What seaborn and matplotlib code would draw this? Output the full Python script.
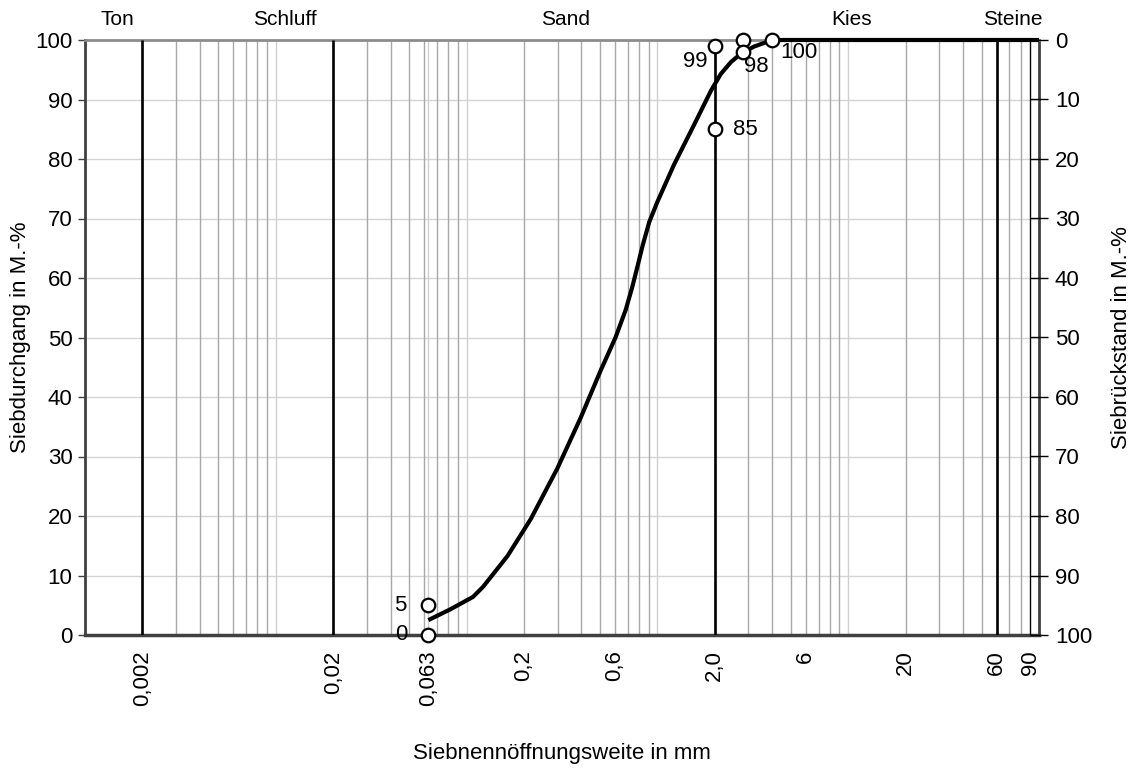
import matplotlib
matplotlib.use("Agg")
import numpy as np
import pandas as pd
import matplotlib.pyplot as plt
import seaborn as sns

# ==========================================
# Sieblinie - abgelesene Werte
# ==========================================
grain_size = [0.063, 0.082, 0.108, 0.122, 0.164, 0.217, 0.299, 0.396, 0.505,
              0.605, 0.683, 0.740, 0.787, 0.836, 0.906, 1.0, 1.22, 1.56, 1.91,
              2.15, 2.43, 2.74, 3.21, 3.78, 4.4, 100]
passing = [2.5, 4.3, 6.4, 8.1, 13.3, 19.5, 28.0, 36.5, 44.5,
           50.1, 54.7, 58.6, 62.0, 65.4, 69.4, 72.8, 79.0, 85.8, 91.5,
           94.3, 96.3, 97.7, 98.9, 99.7, 100.0, 100.0]

# Einzelpunkte (Kreise) mit Beschriftung
point_size = [0.063, 0.063, 2.0, 2.0, 2.8, 2.8, 4.0]
point_value = [5, 0, 99, 85, 100, 98, 100]
point_labeled = [True, True, True, True, False, True, True]

# Bodenarten-Grenzen und Bezeichnungen
boundary_size = [0.002, 0.02, 2.0, 60]
boundary_top = [100, 100, 99, 100]
band_names = ["Ton", "Schluff", "Sand", "Kies", "Steine"]
band_center = [0.00148, 0.0111, 0.331, 10.4, 72.6]

x_ticks = [0.002, 0.02, 0.063, 0.2, 0.6, 2.0, 6, 20, 60, 90]
x_ticklabels = ["0,002", "0,02", "0,063", "0,2", "0,6", "2,0", "6", "20", "60", "90"]
y_ticks = list(range(0, 101, 10))

# ==========================================
# Stil
# ==========================================
sns.set_theme(style="white")
plt.rcParams['font.family'] = ['Liberation Sans', 'DejaVu Sans']
plt.rcParams['text.color'] = 'black'
plt.rcParams['axes.labelcolor'] = 'black'
plt.rcParams['xtick.color'] = 'black'
plt.rcParams['ytick.color'] = 'black'

fig = plt.figure(figsize=(11.39, 7.69), dpi=100)
ax = fig.add_axes([85 / 1139, 1 - 635 / 769, 954 / 1139, 595 / 769])
ax.set_xscale("log")
ax.set_xlim(0.001, 100)
ax.set_ylim(0, 100)

# Gitter: horizontale Linien + log. Nebenteilung
for yv in y_ticks[1:-1]:
    ax.axhline(yv, color='#d4d4d4', lw=1.0, zorder=1)
for dec in [0.001, 0.01, 0.1, 1, 10]:
    for m in range(2, 10):
        ax.axvline(dec * m, color='#a8a8a8', lw=1.0, zorder=1)
    if dec > 0.001:
        ax.axvline(dec, color='#d0d0d0', lw=1.0, zorder=1)
ax.axvline(0.063, color='#cfcfcf', lw=1.0, zorder=1)

# Grenzlinien
for xb, top in zip(boundary_size, boundary_top):
    ax.vlines(xb, 0, top, color='black', lw=1.9, zorder=3)
ax.axvline(90, color='black', lw=0.9, zorder=3)

# Sieblinie
sns.lineplot(x=grain_size, y=passing, sort=False, estimator=None,
             color='black', lw=3.0, ax=ax, zorder=4)
for ln in ax.lines[-1:]:
    ln.set_clip_on(False)
    ln.set_solid_capstyle('butt')
    ln.set_solid_joinstyle('round')

# Kreise
pts = pd.DataFrame({"d": point_size, "p": point_value})
sns.scatterplot(data=pts, x="d", y="p", s=95, facecolor='white',
                edgecolor='black', linewidth=1.6, ax=ax, zorder=6, clip_on=False)

offsets = [(-16, 0, 'right'), (-15, 0, 'right'), (-5, -11.5, 'right'),
           (13, 0, 'left'), None, (1, -10.5, 'left'), (6, -9, 'left')]
for xv, yv, show, off in zip(point_size, point_value, point_labeled, offsets):
    if not show:
        continue
    dx, dy, ha = off
    ax.annotate(str(yv), (xv, yv), xytext=(dx, dy), textcoords='offset points',
                ha=ha, va='center', fontsize=16, zorder=7)

# Bodenarten oben
for name, xc in zip(band_names, band_center):
    ax.text(xc, 101.8, name, ha='center', va='bottom', fontsize=15)

# Achsen
ax.set_xticks(x_ticks)
ax.set_xticklabels(x_ticklabels, rotation=90, fontsize=16)
ax.xaxis.set_minor_locator(matplotlib.ticker.NullLocator())
ax.tick_params(axis='x', length=0, pad=11)
ax.set_yticks(y_ticks)
ax.tick_params(axis='y', direction='out', length=5, width=1, color='#404040',
               labelsize=16, pad=4, left=True)
ax.grid(False)

ax.set_xlabel("Siebnennöffnungsweite in mm", fontsize=16)
ax.xaxis.set_label_coords(0.5, -0.182)
ax.set_ylabel("Siebdurchgang in M.-%", fontsize=16)
ax.yaxis.set_label_coords(-0.057, 0.5)

for side in ['left', 'bottom', 'right']:
    ax.spines[side].set_color('#404040')
    ax.spines[side].set_linewidth(2.0)
ax.spines['bottom'].set_linewidth(2.5)
ax.spines['top'].set_color('#8c8c8c')
ax.spines['top'].set_linewidth(2.0)

# rechte Achse: Siebrückstand
ax2 = ax.twinx()
ax2.set_ylim(100, 0)
ax2.set_yticks(y_ticks)
ax2.tick_params(axis='y', direction='inout', length=13, width=1, color='black',
                labelsize=16, pad=5, right=True)
ax2.set_ylabel("Siebrückstand in M.-%", fontsize=16)
ax2.yaxis.set_label_coords(1.075, 0.5)
ax2.grid(False)
for s in ax2.spines.values():
    s.set_visible(False)

fig.savefig("out.png", dpi=100)
